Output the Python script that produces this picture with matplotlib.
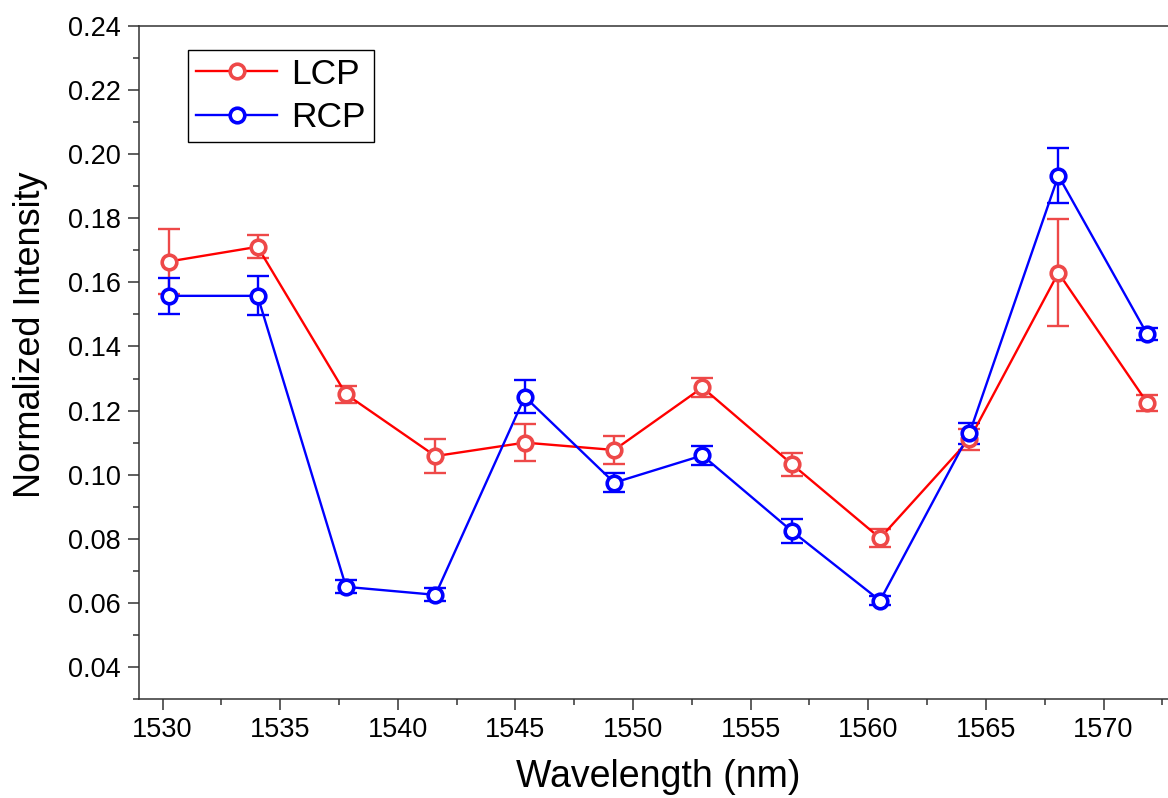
import matplotlib
matplotlib.use("Agg")
import matplotlib.pyplot as plt
from matplotlib.ticker import MultipleLocator, FormatStrFormatter

# =========================
# DATA
# =========================

wavelength = [1530.26, 1534.04, 1537.80, 1541.60, 1545.40, 1549.20,
              1552.95, 1556.75, 1560.50, 1564.30, 1568.08, 1571.85]

lcp = [0.1665, 0.1711, 0.1251, 0.1058, 0.1100, 0.1077,
       0.1272, 0.1033, 0.0802, 0.1110, 0.1630, 0.1225]
lcp_err = [0.0101, 0.0036, 0.0027, 0.0053, 0.0057, 0.0044,
           0.0030, 0.0036, 0.0029, 0.0033, 0.0167, 0.0025]

rcp = [0.1558, 0.1558, 0.0650, 0.0625, 0.1243, 0.0975,
       0.1060, 0.0824, 0.0607, 0.1129, 0.1933, 0.1439]
rcp_err = [0.0056, 0.0061, 0.0020, 0.0020, 0.0052, 0.0030,
           0.0030, 0.0038, 0.0015, 0.0032, 0.0086, 0.0020]

plt.rcParams['font.family'] = ['Liberation Sans', 'DejaVu Sans']

fig = plt.figure(figsize=(11.68, 7.98), dpi=100)
ax = fig.add_axes([139 / 1168, 1 - 699 / 798, 1 - 139 / 1168, 673 / 798])

# =========================
# SERIES
# =========================

series = [
    (lcp, lcp_err, '#FF0000', '#EE4848', 'LCP'),
    (rcp, rcp_err, '#0000FF', '#0000FF', 'RCP'),
]

marker_style = dict(
    markersize=10.5,
    markeredgewidth=2.6,
    markerfacecolor='white'
)

for values, errors, line_color, mark_color, name in series:

    ax.errorbar(
        wavelength,
        values,
        yerr=errors,
        fmt='none',
        ecolor=mark_color,
        elinewidth=1.7,
        capsize=8,
        capthick=1.7,
        zorder=2
    )

    ax.plot(
        wavelength,
        values,
        '-',
        color=line_color,
        linewidth=1.7,
        zorder=3
    )

    ax.plot(
        wavelength,
        values,
        'o',
        markeredgecolor=mark_color,
        zorder=4,
        **marker_style
    )

    # legend proxy
    ax.plot(
        [], [],
        '-o',
        color=line_color,
        linewidth=1.7,
        markeredgecolor=mark_color,
        label=name,
        **marker_style
    )

# =========================
# AXES
# =========================

ax.set_xlim(1529.0, 1572.74)
ax.set_ylim(0.03, 0.24)

ax.xaxis.set_major_locator(MultipleLocator(5))
ax.xaxis.set_minor_locator(MultipleLocator(2.5))
ax.yaxis.set_major_locator(MultipleLocator(0.02))
ax.yaxis.set_minor_locator(MultipleLocator(0.01))
ax.yaxis.set_major_formatter(FormatStrFormatter('%.2f'))

ax.tick_params(axis='both', which='major', direction='out',
               length=8, width=1.1, labelsize=19.5, color='#333333')
ax.tick_params(axis='both', which='minor', direction='out',
               length=4.5, width=1.1, color='#333333')
ax.tick_params(axis='x', which='major', pad=5)
ax.tick_params(axis='y', which='major', pad=5)

ax.spines['right'].set_visible(False)
for side in ['left', 'bottom', 'top']:
    ax.spines[side].set_linewidth(1.1)
    ax.spines[side].set_color('#333333')

ax.set_xlabel('Wavelength (nm)', fontsize=27, va='center')
ax.set_ylabel('Normalized Intensity', fontsize=26, va='center')
ax.xaxis.set_label_coords((658 - 139) / 1029, (699 - 777) / 673)
ax.yaxis.set_label_coords((31 - 139) / 1029, (699 - 335) / 673)

leg = ax.legend(
    loc='upper left',
    bbox_to_anchor=((188 - 139) / 1029, (699 - 50) / 673),
    fontsize=25.5,
    frameon=True,
    fancybox=False,
    framealpha=1,
    edgecolor='black',
    handlelength=2.3,
    handletextpad=0.4,
    labelspacing=0.3,
    borderpad=0.22,
    borderaxespad=0
)
leg.get_frame().set_linewidth(1.0)

fig.savefig('out.png', dpi=100)
